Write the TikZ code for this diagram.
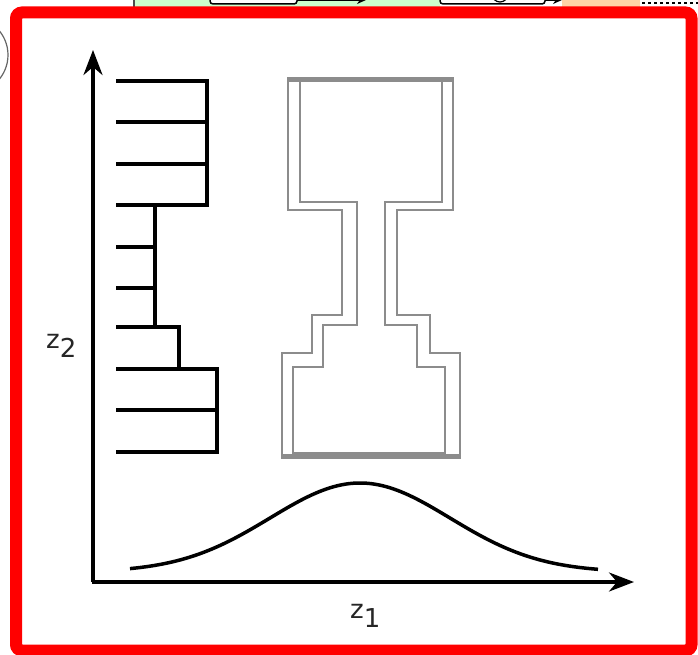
\documentclass[tikz,border=0pt]{standalone}
\usepackage{fontspec}
\setsansfont{DejaVu Sans}
\usetikzlibrary{arrows.meta}
\begin{document}
\begin{tikzpicture}[x=1pt,y=-1pt,
  axis/.style={line width=3.3pt, black, -{Stealth[length=25pt,width=19pt,inset=8pt]}},
  dendro/.style={line width=3.5pt, black, line join=miter},
  glassline/.style={line width=2.8pt, black!45, line join=miter},
  lab/.style={font=\sffamily\fontsize{26}{26}\selectfont, inner sep=0pt, anchor=base west, text=black!85}]
\useasboundingbox (0,0) rectangle (698,655);
\clip (0,0) rectangle (698,655);
\fill[white] (0,0) rectangle (698,655);
% cut-off fragments of the surrounding figure
\fill[green!20] (133,-20) rectangle (440,7);
\draw[black!70, line width=1.5pt] (134,-20) -- (134,7);
\draw[fill=white, line width=1.5pt, rounded corners=3pt] (210,-20) rectangle (297,4);
\draw[line width=1.5pt, -{Stealth[length=9pt,width=8pt]}] (297,0) -- (366,0);
\draw[fill=white, line width=1.5pt, rounded corners=3pt] (440,-20) rectangle (545,4);
\draw[line width=1.2pt] (500,-6) circle (8);
\draw[line width=1.5pt, -{Stealth[length=9pt,width=8pt]}] (545,0) -- (562,0);
\fill[orange!35] (562,-20) rectangle (640,7);
\draw[line width=1.5pt, dashed] (642,3) -- (698,3);
\draw[black!60, line width=1.2pt] (-30,55) circle (38);
% red frame
\draw[red, line width=12pt, rounded corners=6pt] (16,12.5) rectangle (691.5,650.5);
% axes
\draw[axis] (93,582) -- (93,50);
\draw[axis] (91.5,582) -- (634,582);
\node[lab] at (46,348) {z\raisebox{-9pt}{2}};
\node[lab] at (350,618) {z\raisebox{-9pt}{1}};
% dendrogram
\draw[dendro] (116,81) -| (207,205) -- (116,205);
\draw[dendro] (116,122) -- (207,122) (116,164) -- (207,164);
\draw[dendro] (155,205) -- (155,327);
\draw[dendro] (116,247) -- (155,247) (116,288) -- (155,288);
\draw[dendro] (116,327) -| (179,369);
\draw[dendro] (116,369) -| (217,452) -- (116,452);
\draw[dendro] (116,410) -- (217,410);
% hourglass outlines
\draw[glassline] (288,78) -- (288,210) -- (342,210) -- (342,315) -- (312,315) -- (312,353)
  -- (282,353) -- (282,458) -- (460,458) -- (460,353) -- (430,353) -- (430,315)
  -- (397,315) -- (397,210) -- (453,210) -- (453,78) -- cycle;
\draw[glassline] (300,80) -- (300,202) -- (357,202) -- (357,325) -- (323,325) -- (323,367)
  -- (293,367) -- (293,453) -- (445,453) -- (445,367) -- (417,367) -- (417,325)
  -- (385,325) -- (385,202) -- (442,202) -- (442,80) -- cycle;
\draw[glassline, line width=5pt] (289,79.5) -- (452,79.5);
\draw[glassline, line width=4pt] (283,456) -- (459,456);
% gaussian
\draw[line width=3.5pt] plot[domain=130:598, samples=120, smooth]
  (\x, {572-89*exp(-((\x-360)/90)^2/2)});
\end{tikzpicture}
\end{document}
